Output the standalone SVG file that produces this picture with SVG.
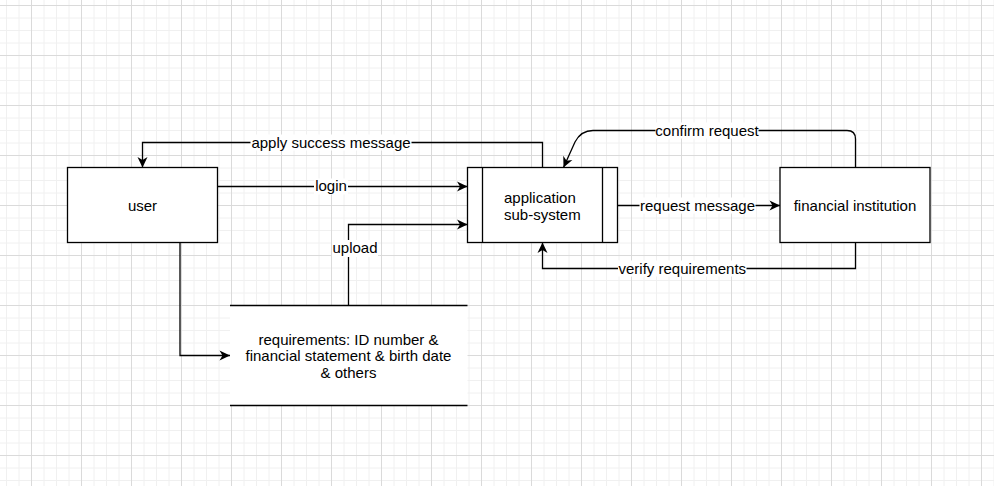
<svg xmlns="http://www.w3.org/2000/svg" width="994" height="486" viewBox="0 0 994 486">
  <defs>
    <pattern id="grid" patternUnits="userSpaceOnUse" x="31" y="5" width="50" height="50">
      <g stroke="#f0f0f0" stroke-width="1">
        <line x1="13" y1="0" x2="13" y2="50"/>
        <line x1="25.5" y1="0" x2="25.5" y2="50"/>
        <line x1="38" y1="0" x2="38" y2="50"/>
        <line x1="0" y1="13" x2="50" y2="13"/>
        <line x1="0" y1="25.5" x2="50" y2="25.5"/>
        <line x1="0" y1="38" x2="50" y2="38"/>
      </g>
      <g stroke="#dadada" stroke-width="1">
        <line x1="0.5" y1="0" x2="0.5" y2="50"/>
        <line x1="0" y1="0.5" x2="50" y2="0.5"/>
      </g>
    </pattern>
    <marker id="arr" markerUnits="userSpaceOnUse" markerWidth="14" markerHeight="14" viewBox="-12 -7 14 14" refX="0" refY="0" orient="auto">
      <path d="M0,0 L-10.5,-5 L-7.5,0 L-10.5,5 Z" fill="#000"/>
    </marker>
    <style>
      .box { fill: #ffffff; stroke: #000; stroke-width: 1.3; }
      .edge { fill: none; stroke: #000; stroke-width: 1.3; }
      .t { font-family: "Liberation Sans", Arial, sans-serif; font-size: 15px; fill: #000; }
      .c { text-anchor: middle; }
      .lbl { fill: #ffffff; }
    </style>
  </defs>
  <rect x="0" y="0" width="994" height="486" fill="#ffffff"/>
  <rect x="0" y="0" width="994" height="486" fill="url(#grid)"/>

  <g id="connectors">
    <path class="edge" d="M217.5,186.5 L467.5,186.5" marker-end="url(#arr)"/>
    <path class="edge" d="M348.5,305.5 L348.5,224.5 L467.5,224.5" marker-end="url(#arr)"/>
    <path class="edge" d="M542.5,167.5 L542.5,142.5 L142.5,142.5 L142.5,167.5" marker-end="url(#arr)"/>
    <path class="edge" d="M617.5,205.5 L780,205.5" marker-end="url(#arr)"/>
    <path class="edge" d="M855.5,167.5 L855.5,139 Q855.5,130.5 847,130.5 L593,130.5 Q581,130.5 575,142 L563.5,167.5" marker-end="url(#arr)"/>
    <path class="edge" d="M855.5,242.5 L855.5,268.5 L542.5,268.5 L542.5,242.5" marker-end="url(#arr)"/>
    <path class="edge" d="M180,242.5 L180,355.5 L230,355.5" marker-end="url(#arr)"/>

    <rect class="lbl" x="314" y="178.5" width="34" height="16"/>
    <text class="t c" x="331" y="191">login</text>
    <rect class="lbl" x="332" y="240" width="46" height="17"/>
    <text class="t c" x="355" y="253">upload</text>
    <rect class="lbl" x="250.5" y="134.5" width="161" height="16"/>
    <text class="t c" x="331" y="148">apply success message</text>
    <rect class="lbl" x="639.5" y="197.5" width="116" height="16"/>
    <text class="t c" x="697.5" y="211">request message</text>
    <rect class="lbl" x="655.5" y="122.5" width="103" height="16"/>
    <text class="t c" x="707" y="135.5">confirm request</text>
    <rect class="lbl" x="618" y="260.5" width="128.5" height="16"/>
    <text class="t c" x="682.3" y="274.3">verify requirements</text>
  </g>

  <g id="user">
    <rect class="box" x="67.5" y="167.5" width="150" height="75"/>
    <text class="t c" x="142.5" y="210.5">user</text>
  </g>

  <g id="application">
    <rect class="box" x="467.5" y="167.5" width="150" height="75"/>
    <line class="edge" x1="482.5" y1="167.5" x2="482.5" y2="242.5"/>
    <line class="edge" x1="602.5" y1="167.5" x2="602.5" y2="242.5"/>
    <text class="t" x="504" y="202.5">application</text>
    <text class="t" x="504" y="220">sub-system</text>
  </g>

  <g id="financial">
    <rect class="box" x="780" y="167.5" width="150" height="75"/>
    <text class="t c" x="855" y="210.5">financial institution</text>
  </g>

  <g id="requirements">
    <rect x="230" y="305.5" width="237.5" height="100" fill="#ffffff"/>
    <line class="edge" x1="230" y1="305.5" x2="467.5" y2="305.5"/>
    <line class="edge" x1="230" y1="405.5" x2="467.5" y2="405.5"/>
    <text class="t c" x="348.5" y="344.5">requirements: ID number &amp;</text>
    <text class="t c" x="348.5" y="361">financial statement &amp; birth date</text>
    <text class="t c" x="348.5" y="378">&amp; others</text>
  </g>
</svg>
